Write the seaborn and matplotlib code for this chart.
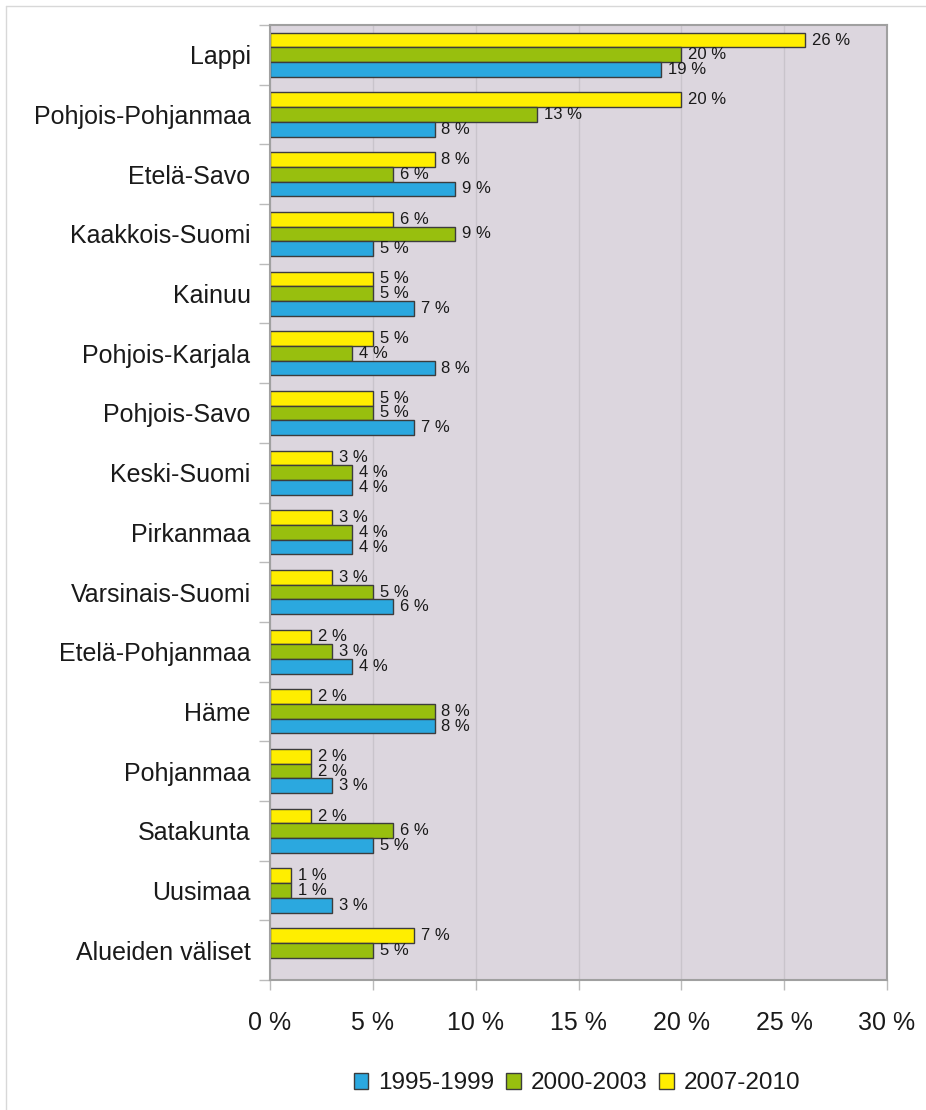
import numpy as np
import pandas as pd
import matplotlib
matplotlib.use("Agg")
import matplotlib.pyplot as plt
from matplotlib.patches import Patch
from matplotlib.lines import Line2D
import seaborn as sns

regions = ["Lappi", "Pohjois-Pohjanmaa", "Etelä-Savo", "Kaakkois-Suomi", "Kainuu",
           "Pohjois-Karjala", "Pohjois-Savo", "Keski-Suomi", "Pirkanmaa",
           "Varsinais-Suomi", "Etelä-Pohjanmaa", "Häme", "Pohjanmaa", "Satakunta",
           "Uusimaa", "Alueiden väliset"]
v_1995 = [19, 8, 9, 5, 7, 8, 7, 4, 4, 6, 4, 8, 3, 5, 3, np.nan]
v_2000 = [20, 13, 6, 9, 5, 4, 5, 4, 4, 5, 3, 8, 2, 6, 1, 5]
v_2007 = [26, 20, 8, 6, 5, 5, 5, 3, 3, 3, 2, 2, 2, 2, 1, 7]
periods = ["1995-1999", "2000-2003", "2007-2010"]
colors = {"1995-1999": "#2BA8DF", "2000-2003": "#98BF0E", "2007-2010": "#FFEE00"}

df = pd.DataFrame({"alue": regions * 3,
                   "jakso": np.repeat(periods, len(regions)),
                   "osuus": v_1995 + v_2000 + v_2007})

sns.set_style("white")
plt.rcParams["font.family"] = ["Liberation Sans", "DejaVu Sans"]

fig = plt.figure(figsize=(9.26, 11.1), dpi=100)
ax = fig.add_axes([270 / 926, 1 - 980 / 1110, 617 / 926, 955 / 1110])

# yellow on top, blue at the bottom of each group
draw_order = periods[::-1]
sns.barplot(data=df, x="osuus", y="alue", hue="jakso", hue_order=draw_order,
            order=regions, palette=colors, saturation=1, orient="h", width=0.74,
            edgecolor="#3c3c3c", linewidth=1.0, ax=ax, legend=False)

for cont in ax.containers:
    vals = cont.datavalues
    ax.bar_label(cont, labels=[f"{v:.0f} %" for v in vals], padding=5,
                 fontsize=12, color="#1a1a1a")

ax.set_facecolor("#DCD6DE")
ax.set_xlim(0, 30)
ax.set_ylim(len(regions) - 0.5, -0.5)
ax.set_xticks(np.arange(0, 31, 5))
ax.set_xticklabels([f"{t} %" for t in range(0, 31, 5)], fontsize=18, color="#1a1a1a")
ax.xaxis.grid(True, color="#C9C4CB", linewidth=1)
ax.set_axisbelow(True)
ax.set_xlabel("")
ax.set_ylabel("")
ax.tick_params(axis="x", length=7, width=1, color="#BBBBBB", pad=15, direction="out",
               bottom=True)
ax.set_yticks(np.arange(len(regions)))
ax.set_yticklabels(regions, fontsize=18, color="#1a1a1a")
ax.tick_params(axis="y", which="major", length=0, pad=14)
ax.set_yticks(np.arange(-0.5, len(regions), 1), minor=True)
ax.tick_params(axis="y", which="minor", length=8, width=1, color="#BBBBBB", left=True)
for s in ax.spines.values():
    s.set_color("#A0A0A0")
    s.set_linewidth(1.5)

handles = [Patch(facecolor=colors[p], edgecolor="#3c3c3c", linewidth=1.0, label=p)
           for p in periods]
fig.legend(handles=handles, loc="center", bbox_to_anchor=(0.623, 0.024), ncol=3,
           frameon=False, fontsize=17.5, handlelength=0.6, handleheight=0.6,
           handletextpad=0.4, columnspacing=0.5, labelcolor="#1a1a1a")

fig.add_artist(Line2D([6 / 926, 1], [1 - 6 / 1110, 1 - 6 / 1110],
                      transform=fig.transFigure, color="#D8D8D8", linewidth=1))
fig.add_artist(Line2D([6 / 926, 6 / 926], [0, 1 - 6 / 1110],
                      transform=fig.transFigure, color="#D8D8D8", linewidth=1))

fig.savefig("out.png", dpi=100)
